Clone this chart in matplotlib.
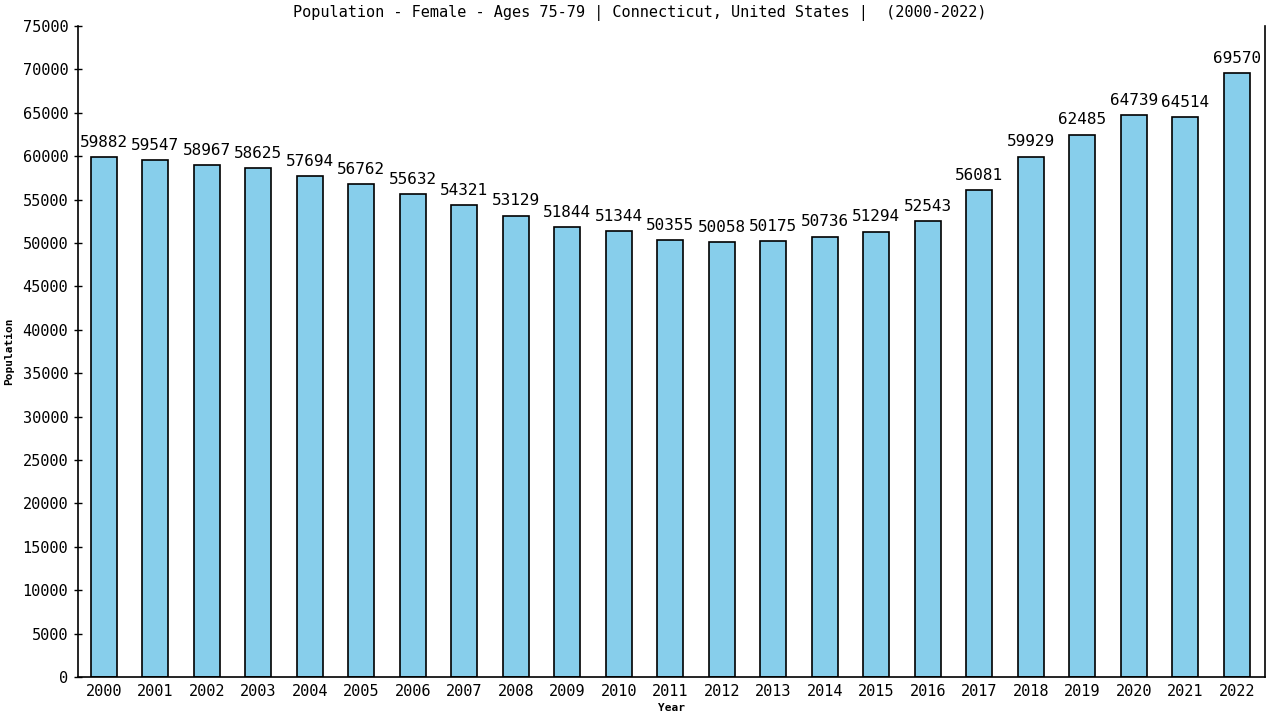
import matplotlib
matplotlib.use("Agg")
import matplotlib.pyplot as plt
import numpy as np

years = [str(y) for y in range(2000, 2023)]
population = [59882, 59547, 58967, 58625, 57694, 56762, 55632, 54321, 53129, 51844,
              51344, 50355, 50058, 50175, 50736, 51294, 52543, 56081, 59929, 62485,
              64739, 64514, 69570]
yticks = list(range(0, 75001, 5000))

plt.rcParams["font.family"] = "DejaVu Sans Mono"

fig = plt.figure(figsize=(12.8, 7.2), dpi=100)
ax = fig.add_axes([78 / 1280, 43 / 720, (1265 - 78) / 1280, (677 - 26) / 720])

x = np.arange(len(years))
ax.bar(x, population, width=0.5, color="#87ceeb", edgecolor="black", linewidth=1.2)

for xi, v in zip(x, population):
    ax.text(xi, v + 850, str(v), ha="center", va="bottom", fontsize=11.5)

ax.set_xlim(-0.5, len(years) - 0.45)
ax.set_ylim(0, 75000)
ax.set_yticks(yticks)
ax.set_yticklabels([str(t) for t in yticks], fontsize=11)
ax.set_xticks(x)
ax.set_xticklabels(years, fontsize=11)
ax.tick_params(axis="x", length=0, pad=5)
ax.tick_params(axis="y", length=6, width=1, direction="inout", pad=4)

ax.spines["top"].set_visible(False)
for s in ["left", "right", "bottom"]:
    ax.spines[s].set_linewidth(1.2)

ax.set_xlabel("Year", fontsize=8, fontweight="bold", labelpad=3)
ax.set_ylabel("Population", fontsize=8, fontweight="bold", labelpad=6)

fig.text(0.5, 1 - 13 / 720,
         "Population - Female - Ages 75-79 | Connecticut, United States |  (2000-2022)",
         ha="center", va="center", fontsize=11)

fig.savefig("out.png", dpi=100)
